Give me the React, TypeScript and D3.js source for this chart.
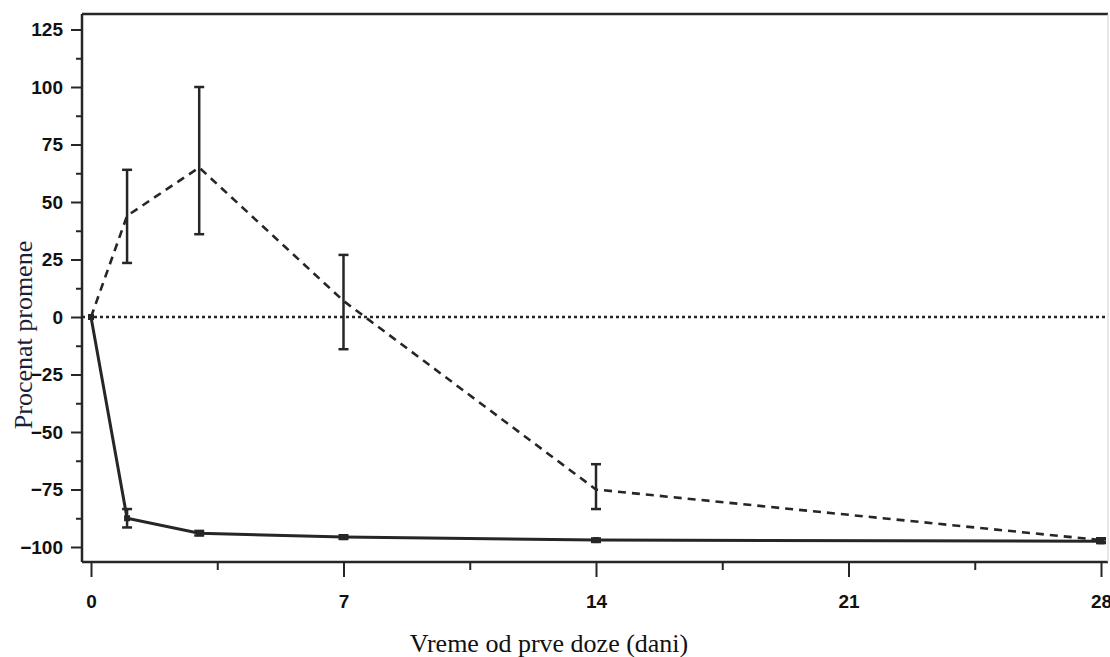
import React, { useEffect, useRef } from 'react';
import * as d3 from 'd3';

// days since first dose
const days = [0, 1, 3, 7, 14, 28];

// dashed series: mean and error bar ends
const dashedMean = [0, 44, 65, 7, -75, -97];
const dashedLow = [0, 23.5, 36, -14, -83.5, -97.8];
const dashedHigh = [0, 64, 100, 27, -64, -96.2];

// solid series
const solidMean = [0, -87.5, -94, -95.7, -97, -97.5];
const solidLow = [0, -91.5, -95, -96.5, -97.8, -98.3];
const solidHigh = [0, -83.5, -93, -94.9, -96.3, -96.7];

const xTicks = [0, 7, 14, 21, 28];
const xMinor = [3.5, 10.5, 17.5, 24.5];
const yTicks = [125, 100, 75, 50, 25, 0, -25, -50, -75, -100];
const yMinor = [112.5, 87.5, 62.5, 37.5, 12.5, -12.5, -37.5, -62.5, -87.5];

const W = 1110;
const H = 657;
const frame = { left: 82, right: 1108, top: 14, bottom: 562 };
const ink = '#262626';

const App = () => {
  const xAxisRef = useRef<SVGGElement>(null);
  const yAxisRef = useRef<SVGGElement>(null);

  const x = d3.scaleLinear().domain([0, 28]).range([91, 1101]);
  const y = d3.scaleLinear().domain([-100, 125]).range([547, 29.5]);

  useEffect(() => {
    const labelStyle = (g: any) => g.selectAll('text')
      .attr('fill', '#111')
      .style('font-family', '"Liberation Sans", Arial, sans-serif')
      .style('font-weight', 'bold')
      .style('font-size', '19px');
    const tickStyle = (g: any) => {
      g.select('.domain').remove();
      g.selectAll('line').attr('stroke', ink).attr('stroke-width', 2);
    };

    const gx = d3.select(xAxisRef.current);
    gx.selectAll('*').remove();
    // major ticks with labels
    gx.append('g')
      .attr('transform', `translate(0,${frame.bottom + 1})`)
      .call(d3.axisBottom(x).tickValues(xTicks).tickSize(14).tickPadding(18).tickFormat(d3.format('d')))
      .call(tickStyle)
      .call(labelStyle);
    // minor ticks
    gx.append('g')
      .attr('transform', `translate(0,${frame.bottom + 1})`)
      .call(d3.axisBottom(x).tickValues(xMinor).tickSize(7).tickFormat(() => ''))
      .call(tickStyle);

    const gy = d3.select(yAxisRef.current);
    gy.selectAll('*').remove();
    gy.append('g')
      .attr('transform', `translate(${frame.left},0)`)
      .call(d3.axisLeft(y).tickValues(yTicks).tickSize(11).tickPadding(8).tickFormat(d3.format('d')))
      .call(tickStyle)
      .call(labelStyle);
    gy.append('g')
      .attr('transform', `translate(${frame.left},0)`)
      .call(d3.axisLeft(y).tickValues(yMinor).tickSize(6).tickFormat(() => ''))
      .call(tickStyle);
  }, []);

  const dashedLine = d3.line<number>().x((d, i) => x(days[i])).y((d) => y(d))(dashedMean) || '';
  const solidLine = d3.line<number>().x((d, i) => x(days[i])).y((d) => y(d))(solidMean) || '';

  const errorBars = (low: number[], high: number[], key: string) =>
    days.map((d, i) => {
      if (high[i] === low[i]) return null;
      const cx = x(d);
      const cap = 5;
      return (
        <g key={`${key}-${i}`} stroke={ink} strokeWidth={2.5}>
          <line x1={cx} x2={cx} y1={y(high[i])} y2={y(low[i])} />
          <line x1={cx - cap} x2={cx + cap} y1={y(high[i])} y2={y(high[i])} />
          <line x1={cx - cap} x2={cx + cap} y1={y(low[i])} y2={y(low[i])} />
        </g>
      );
    });

  return (
    <svg width={W} height={H} style={{ position: 'absolute', left: 0, top: 0, background: '#fff' }}>
      {/* frame */}
      <line x1={frame.left} x2={frame.right} y1={frame.top} y2={frame.top} stroke={ink} strokeWidth={2.5} />
      <line x1={frame.left} x2={frame.left} y1={frame.top} y2={frame.bottom} stroke={ink} strokeWidth={2.5} />
      <line x1={frame.left} x2={frame.right} y1={frame.bottom} y2={frame.bottom} stroke={ink} strokeWidth={2.5} />
      <line x1={frame.right} x2={frame.right} y1={frame.top} y2={frame.bottom} stroke="#cfcfcf" strokeWidth={1} />

      {/* zero reference */}
      <line x1={frame.left} x2={frame.right} y1={y(0)} y2={y(0)} stroke={ink} strokeWidth={2.5} strokeDasharray="3 3" />

      <path d={dashedLine} fill="none" stroke={ink} strokeWidth={2.6} strokeDasharray="8 6" />
      <path d={solidLine} fill="none" stroke={ink} strokeWidth={3} />

      {errorBars(dashedLow, dashedHigh, 'd')}
      {errorBars(solidLow, solidHigh, 's')}

      {/* point markers */}
      {days.map((d, i) => (
        <rect key={`m-${i}`} x={x(d) - 3} y={y(solidMean[i]) - 3} width={6} height={6} fill={ink} />
      ))}

      <g ref={xAxisRef} />
      <g ref={yAxisRef} />

      <text
        x={549}
        y={652}
        textAnchor="middle"
        fill="#111"
        style={{ fontFamily: '"Liberation Serif", "Times New Roman", serif', fontSize: '26px' }}
      >
        Vreme od prve doze (dani)
      </text>
      <text
        transform="translate(32,335) rotate(-90)"
        textAnchor="middle"
        fill="#1b1f3b"
        style={{ fontFamily: '"Liberation Serif", "Times New Roman", serif', fontSize: '26px' }}
      >
        Procenat promene
      </text>
    </svg>
  );
};

export default App;
